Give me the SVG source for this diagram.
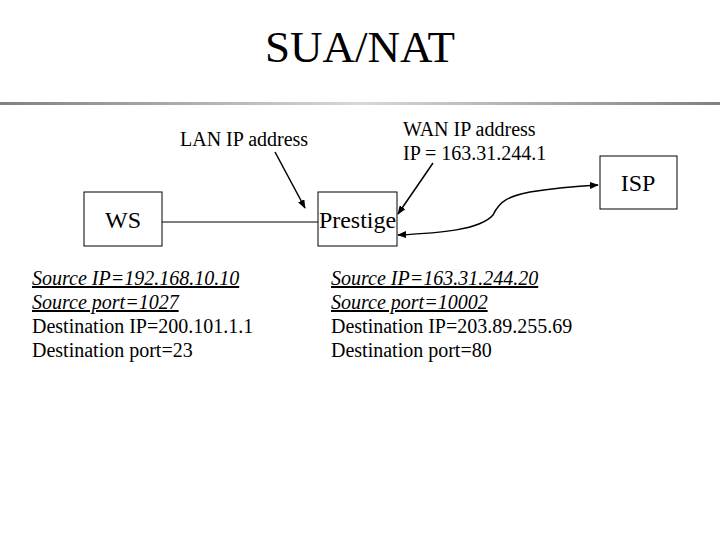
<svg xmlns="http://www.w3.org/2000/svg" width="720" height="540" viewBox="0 0 720 540">
<defs>
<linearGradient id="rule" x1="0" y1="0" x2="1" y2="0">
<stop offset="0" stop-color="#808080"/>
<stop offset="0.5" stop-color="#d8d8d8"/>
<stop offset="1" stop-color="#808080"/>
</linearGradient>
<marker id="ah" viewBox="0 0 10 10" refX="9" refY="5" markerWidth="9" markerHeight="7" markerUnits="userSpaceOnUse" orient="auto-start-reverse" preserveAspectRatio="none">
<path d="M0,0 L10,5 L0,10 z" fill="#000"/>
</marker>
<style>
text{font-family:"Liberation Serif","Times New Roman",serif;fill:#000}
.box{fill:#fff;stroke:#000;stroke-width:1}
.lbl{font-size:24px}
.small{font-size:20px}
.u{font-style:italic;text-decoration:underline}
.con{fill:none;stroke:#000;stroke-width:1.5}
</style>
</defs>
<rect width="720" height="540" fill="#fff"/>
<text x="360" y="62" font-size="45" text-anchor="middle">SUA/NAT</text>
<rect x="0" y="102" width="720" height="3" fill="url(#rule)"/>
<g id="connectors">
<line x1="162" y1="222" x2="318" y2="222" stroke="#000" stroke-width="1"/>
<line class="con" x1="275" y1="152" x2="305" y2="208" marker-end="url(#ah)"/>
<line class="con" x1="433" y1="163" x2="398" y2="214" marker-end="url(#ah)"/>
<path class="con" d="M398,235 C440,233 480,230 493,215 C500,200 510,196 530,192 C555,188 580,186 598,185" marker-start="url(#ah)" marker-end="url(#ah)"/>
</g>
<g id="ws">
<rect class="box" x="84" y="192" width="78" height="54"/>
<text class="lbl" x="123" y="228" text-anchor="middle" font-family="Liberation Serif, serif">WS</text>
</g>
<g id="prestige">
<rect class="box" x="318" y="192" width="79" height="54"/>
<text class="lbl" x="319" y="228" textLength="77" lengthAdjust="spacingAndGlyphs" font-family="Liberation Serif, serif">Prestige</text>
</g>
<g id="isp">
<rect class="box" x="600" y="156" width="77" height="53"/>
<text class="lbl" x="638" y="191" text-anchor="middle" font-family="Liberation Serif, serif">ISP</text>
</g>
<g id="lan-label">
<text class="small" x="180" y="146">LAN IP address</text>
</g>
<g id="wan-label">
<text class="small" x="403" y="136">WAN IP address</text>
<text class="small" x="403" y="160">IP = 163.31.244.1</text>
</g>
<g id="ws-data">
<text class="small u" x="32" y="285">Source IP=192.168.10.10</text>
<text class="small u" x="32" y="309">Source port=1027</text>
<text class="small" x="32" y="333">Destination IP=200.101.1.1</text>
<text class="small" x="32" y="357">Destination port=23</text>
</g>
<g id="prestige-data">
<text class="small u" x="331" y="285">Source IP=163.31.244.20</text>
<text class="small u" x="331" y="309">Source port=10002</text>
<text class="small" x="331" y="333">Destination IP=203.89.255.69</text>
<text class="small" x="331" y="357">Destination port=80</text>
</g>
</svg>
